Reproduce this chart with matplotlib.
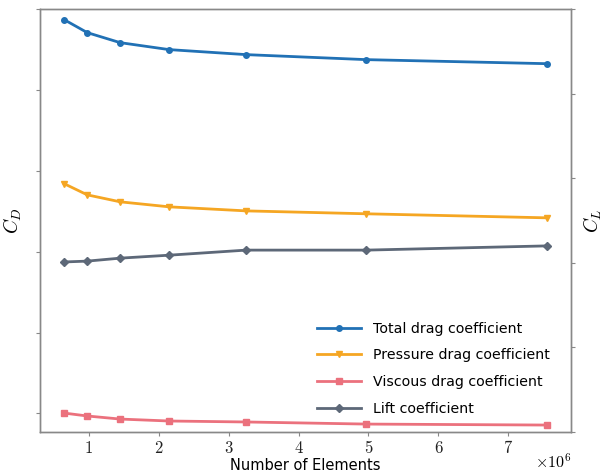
import matplotlib
matplotlib.use("Agg")
import matplotlib.pyplot as plt
from matplotlib.ticker import MultipleLocator, NullFormatter

plt.rcParams['mathtext.fontset'] = 'cm'
plt.rcParams['font.family'] = ['DejaVu Sans']

# Data (number of elements in millions)
n_elements = [0.65, 0.98, 1.45, 2.15, 3.25, 4.97, 7.55]
cd_total = [0.03434, 0.03354, 0.03292, 0.03249, 0.03218, 0.03187, 0.03162]
cd_pressure = [0.02420, 0.02351, 0.02308, 0.02277, 0.02252, 0.02234, 0.02209]
cd_viscous = [0.01002, 0.00984, 0.00965, 0.00953, 0.00947, 0.00934, 0.00928]
cl = [0.402, 0.404, 0.411, 0.418, 0.430, 0.430, 0.440]

x_ticks = [1, 2, 3, 4, 5, 6, 7]

c_blue = '#2171b5'
c_orange = '#f5a623'
c_pink = '#eb717d'
c_gray = '#5d6878'
spine_c = '#888888'

fig = plt.figure(figsize=(6.07, 4.74), dpi=100)
ax = fig.add_axes([0.066, 0.0886, 0.8747, 0.8924])
ax2 = ax.twinx()

l1, = ax.plot(n_elements, cd_total, color=c_blue, lw=2, marker='o', ms=4, label='Total drag coefficient')
l2, = ax.plot(n_elements, cd_pressure, color=c_orange, lw=2, marker='v', ms=4, label='Pressure drag coefficient')
l3, = ax.plot(n_elements, cd_viscous, color=c_pink, lw=2, marker='s', ms=4, label='Viscous drag coefficient')
l4, = ax2.plot(n_elements, cl, color=c_gray, lw=2, marker='D', ms=4, label='Lift coefficient')

ax.set_ylim(0.00885, 0.035)
ax.yaxis.set_major_locator(MultipleLocator(0.005))
ax.yaxis.set_major_formatter(NullFormatter())
ax2.set_ylim(0.0, 1.0)
ax2.yaxis.set_major_locator(MultipleLocator(0.2))
ax2.yaxis.set_major_formatter(NullFormatter())

ax.set_xticks(x_ticks)
ax.set_xticklabels([f'${t}$' for t in x_ticks], fontsize=12)
ax.text(1.0, -0.048, r'$\times10^{6}$', transform=ax.transAxes, ha='right', va='top', fontsize=11.5)

ax.set_xlabel('Number of Elements', fontsize=10.5, labelpad=1)
ax.set_ylabel(r'$C_D$', fontsize=14, labelpad=5)
ax2.set_ylabel(r'$C_L$', fontsize=14, labelpad=1)

for a in (ax, ax2):
    for s in a.spines.values():
        s.set_color(spine_c)
        s.set_linewidth(1.0)
    a.tick_params(color=spine_c, length=3, width=0.8, labelcolor='#222222')
ax.tick_params(axis='x', pad=2)

ax.legend(handles=[l1, l2, l3, l4], loc='lower right', frameon=False, fontsize=10.2,
          handlelength=3.1, borderaxespad=0.0, labelspacing=0.9, handletextpad=0.8,
          bbox_to_anchor=(0.97, 0.025))

fig.savefig('out.png', dpi=100)
